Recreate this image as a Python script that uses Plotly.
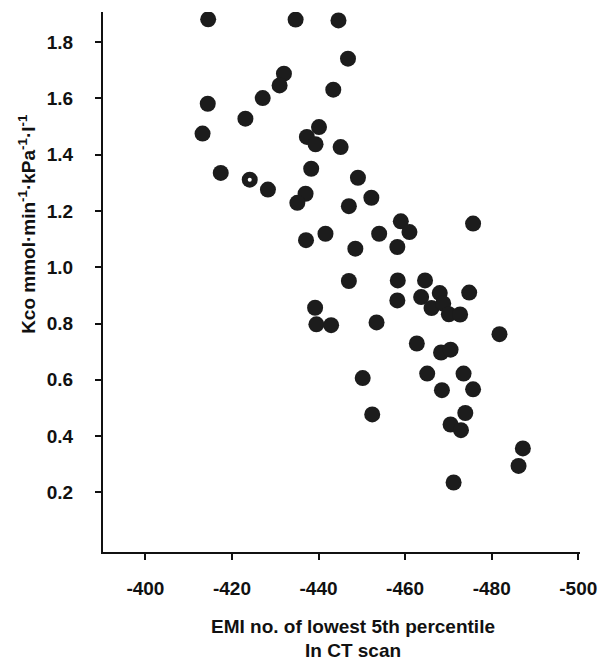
import plotly.graph_objects as go

# EMI no. of lowest 5th percentile in CT scan (x) vs Kco (y)
emi = [-414.5, -434.7, -444.6, -446.8, -432.0, -431.0, -443.4, -427.1, -414.4, -423.1,
       -413.2, -440.1, -437.3, -439.3, -445.1, -417.4, -424.1, -428.3, -438.3, -437.0,
       -435.1, -449.1, -447.0, -452.2, -441.6, -437.1, -448.5, -447.0, -439.2, -439.5,
       -442.9, -459.0, -461.0, -454.0, -458.2, -475.7, -458.3, -458.2, -464.6, -463.7,
       -468.0, -466.1, -468.8, -470.1, -472.7, -474.8, -453.4, -481.8, -462.7, -468.3,
       -470.5, -450.2, -465.1, -473.5, -468.5, -475.7, -452.4, -473.9, -470.5, -472.9,
       -487.2, -486.2, -471.2]
kco = [1.881, 1.880, 1.877, 1.741, 1.688, 1.646, 1.631, 1.601, 1.581, 1.528,
       1.475, 1.498, 1.463, 1.437, 1.427, 1.335, 1.311, 1.276, 1.350, 1.261,
       1.229, 1.318, 1.217, 1.247, 1.119, 1.096, 1.066, 0.951, 0.856, 0.797,
       0.794, 1.163, 1.125, 1.119, 1.072, 1.155, 0.953, 0.882, 0.953, 0.894,
       0.908, 0.855, 0.871, 0.833, 0.832, 0.910, 0.804, 0.762, 0.729, 0.697,
       0.707, 0.606, 0.622, 0.622, 0.563, 0.566, 0.477, 0.482, 0.441, 0.421,
       0.356, 0.294, 0.235]

x_ticks = [-400, -420, -440, -460, -480, -500]
y_ticks = [0.2, 0.4, 0.6, 0.8, 1.0, 1.2, 1.4, 1.6, 1.8]
y_tick_labels = ["0.2", "0.4", "0.6", "0.8", "1.0", "1.2", "1.4", "1.6", "1.8"]

x_title_lines = ["EMI no. of lowest 5th percentile", "In CT scan"]
y_title = "Kco mmol·min<sup>-1</sup>·kPa<sup>-1</sup>·l<sup>-1</sup>"

FONT = "Liberation Sans, Arial, Helvetica, sans-serif"
INK = "#111111"

fig = go.Figure()
fig.add_trace(go.Scatter(
    x=emi, y=kco, mode="markers",
    marker=dict(size=16, color="#1c1c1c", line=dict(width=0)),
    hoverinfo="x+y", showlegend=False,
))
# small white speck seen inside one of the dots
fig.add_trace(go.Scatter(
    x=[emi[16]], y=[kco[16]], mode="markers",
    marker=dict(size=4, color="white"), showlegend=False, hoverinfo="skip",
))

axis_common = dict(
    showgrid=False, zeroline=False, showline=True, linecolor=INK, linewidth=2,
    ticks="outside", tickcolor=INK, tickwidth=1.5, ticklen=6,
)

fig.update_xaxes(
    range=[-390.2, -500.4], tickvals=x_ticks, ticktext=[str(v) for v in x_ticks],
    tickfont=dict(family=FONT, size=19, color=INK, weight="bold"),
    ticklabelstandoff=12,
    **axis_common,
)
fig.update_yaxes(
    range=[-0.012, 1.907], tickvals=y_ticks, ticktext=y_tick_labels,
    tickfont=dict(family=FONT, size=19, color=INK, weight="bold"),
    ticklabelstandoff=18,
    **axis_common,
)

for line, shift in zip(x_title_lines, [-74, -98]):
    fig.add_annotation(
        text=line, xref="paper", yref="paper", x=0.525, y=0,
        xanchor="center", yanchor="middle", yshift=shift, showarrow=False,
        font=dict(family=FONT, size=19, color=INK, weight="bold"),
    )
fig.add_annotation(
    text=y_title, xref="paper", yref="paper", x=-0.158, y=0.607,
    xanchor="center", yanchor="middle", textangle=-90, showarrow=False,
    font=dict(family=FONT, size=19, color=INK, weight="bold"),
)

fig.update_layout(
    width=609, height=662,
    margin=dict(l=103, r=20, t=12, b=110),
    paper_bgcolor="white", plot_bgcolor="white",
)

fig.write_html(
    "out.html",
    config={"displayModeBar": False},
    post_script="document.body.style.margin='0';document.body.style.overflow='hidden';",
)
